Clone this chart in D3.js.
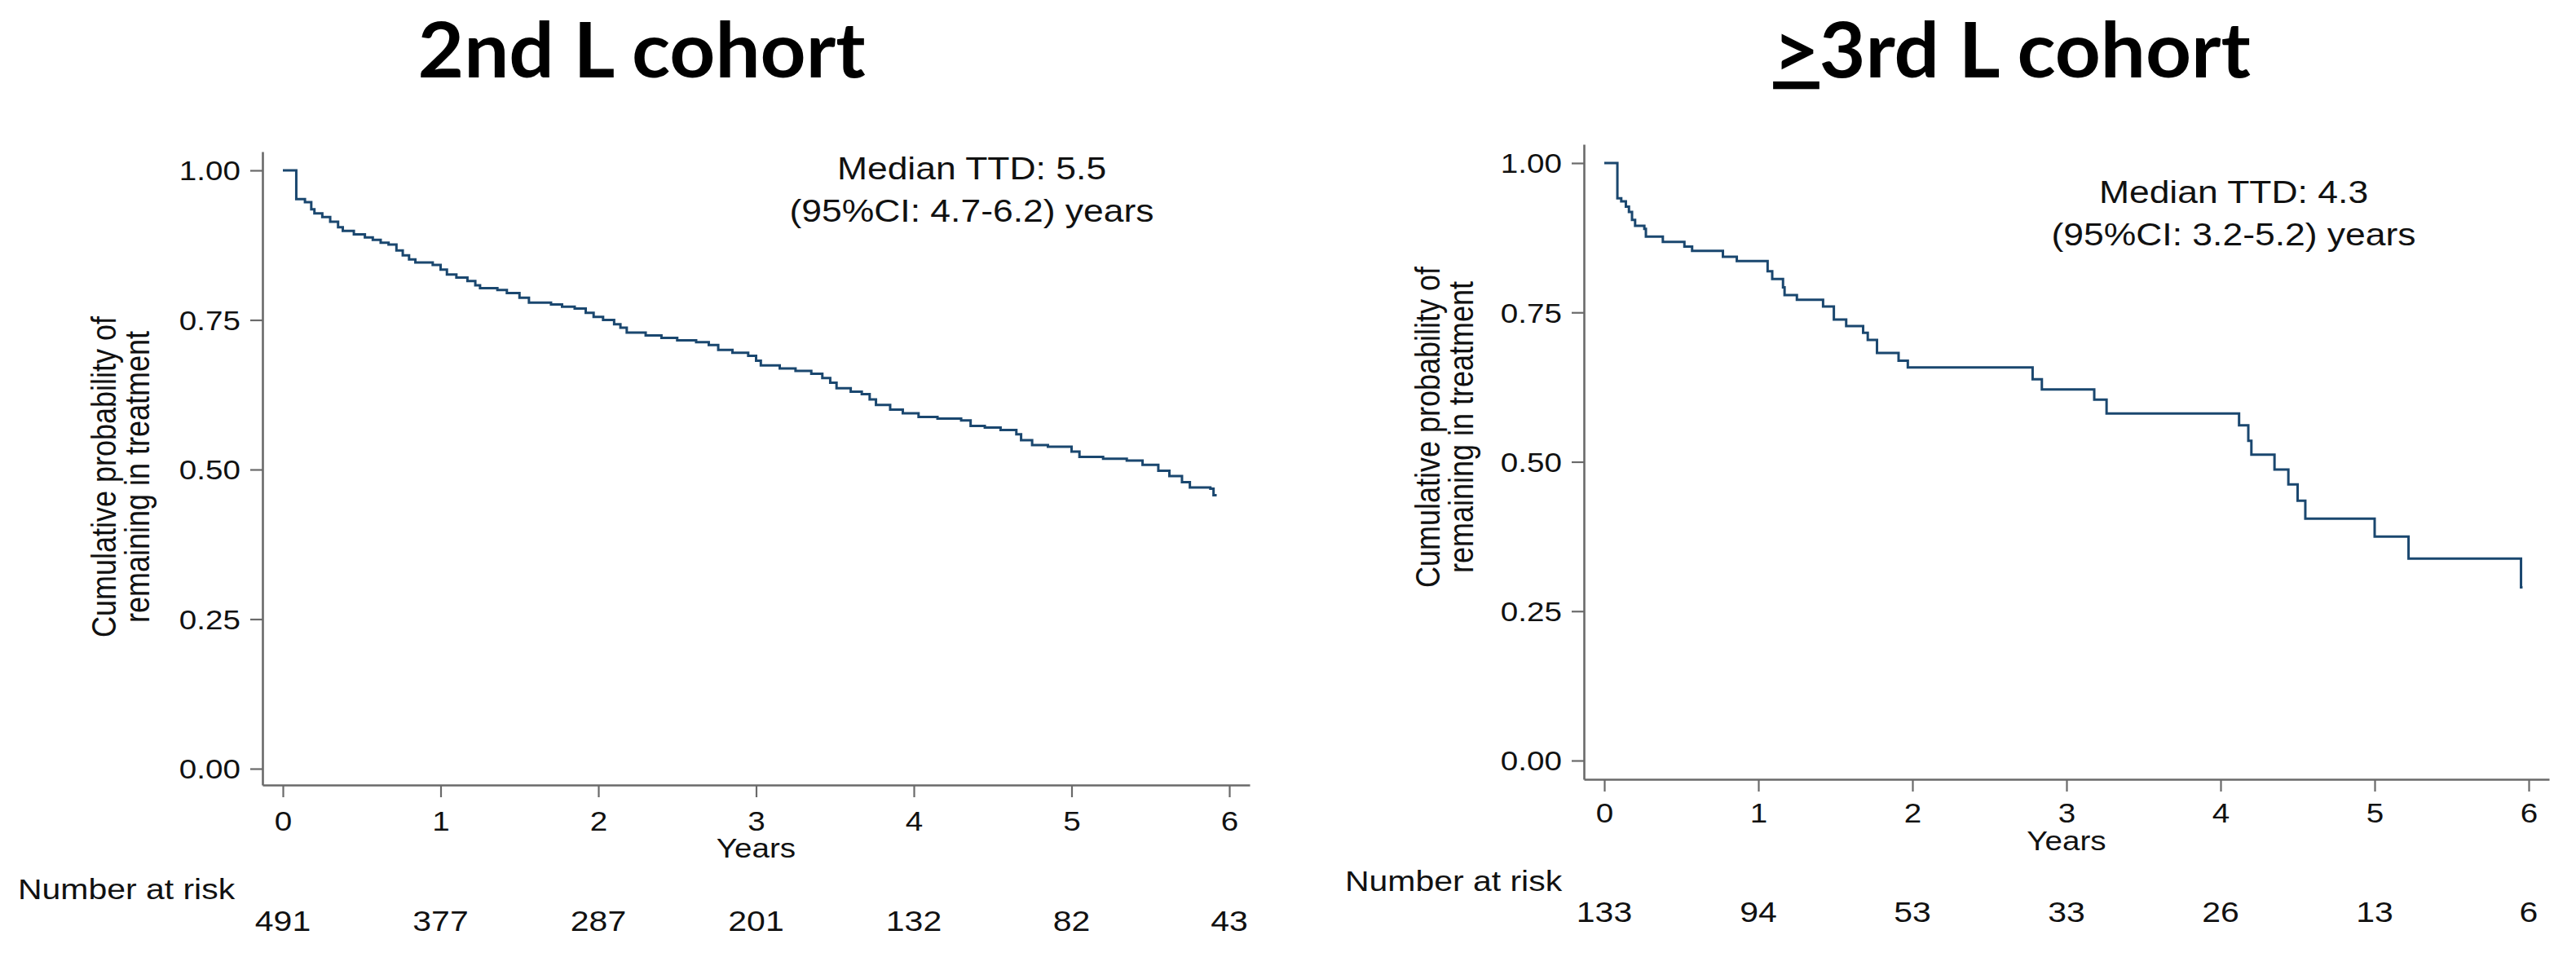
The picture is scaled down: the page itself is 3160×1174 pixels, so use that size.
<!DOCTYPE html>
<html>
<head>
<meta charset="utf-8">
<script src="https://cdn.jsdelivr.net/npm/d3@7"></script>
<style>
body { margin: 0; background: #fff; }
svg text { font-family: "Liberation Sans", Arial, sans-serif; fill: #111; }
svg .ttl { font-family: Lato, "Open Sans", sans-serif; font-weight: 700; fill: #000; }
</style>
</head>
<body>
<svg id="fig"></svg>
<script>
var width = 3160, height = 1174;
var SX = 1.17; // stata text looks stretched sideways in the picture

// 2nd L cohort: Kaplan-Meier steps (years, probability)
var yrs2 = [0, 0.085, 0.14, 0.18, 0.2, 0.25, 0.3, 0.35, 0.38, 0.45, 0.52, 0.57, 0.62, 0.67, 0.72, 0.76, 0.8, 0.84, 0.95, 1.0,
  1.04, 1.1, 1.17, 1.22, 1.25, 1.36, 1.42, 1.5, 1.56, 1.7, 1.77, 1.85, 1.92, 1.97, 2.03, 2.1, 2.14, 2.18, 2.3, 2.4,
  2.5, 2.62, 2.7, 2.76, 2.85, 2.95, 3.0, 3.03, 3.15, 3.25, 3.35, 3.42, 3.47, 3.51, 3.6, 3.67, 3.72, 3.76, 3.85, 3.93,
  4.03, 4.15, 4.3, 4.36, 4.45, 4.55, 4.65, 4.68, 4.75, 4.85, 5.0, 5.05, 5.2, 5.35, 5.45, 5.55, 5.62, 5.7, 5.75, 5.88, 5.9, 5.92];
var surv2 = [1.0, 0.952, 0.947, 0.935, 0.928, 0.922, 0.914, 0.905, 0.899, 0.893, 0.888, 0.884, 0.879, 0.876, 0.866, 0.858, 0.851, 0.846, 0.842, 0.834,
  0.826, 0.821, 0.815, 0.808, 0.803, 0.800, 0.795, 0.787, 0.779, 0.776, 0.772, 0.769, 0.762, 0.755, 0.750, 0.743, 0.737, 0.729, 0.724, 0.720,
  0.716, 0.713, 0.708, 0.700, 0.695, 0.690, 0.682, 0.674, 0.669, 0.665, 0.660, 0.653, 0.645, 0.636, 0.630, 0.626, 0.617, 0.608, 0.600, 0.594,
  0.588, 0.585, 0.582, 0.573, 0.570, 0.566, 0.559, 0.549, 0.541, 0.538, 0.530, 0.521, 0.518, 0.515, 0.508, 0.498, 0.489, 0.479, 0.470, 0.468, 0.457, 0.457];

// >=3rd L cohort
var yrs3 = [0, 0.085, 0.11, 0.14, 0.16, 0.18, 0.2, 0.26, 0.27, 0.38, 0.52, 0.57, 0.77, 0.86, 1.06, 1.09, 1.16, 1.17, 1.25, 1.42,
  1.49, 1.57, 1.68, 1.71, 1.77, 1.91, 1.97, 2.78, 2.84, 3.18, 3.26, 4.12, 4.18, 4.2, 4.35, 4.44, 4.5, 4.55, 5.0, 5.22, 5.95, 5.96];
var surv3 = [1.0, 0.941, 0.936, 0.927, 0.918, 0.905, 0.895, 0.89, 0.877, 0.868, 0.86, 0.853, 0.843, 0.836, 0.819, 0.806, 0.792, 0.779, 0.771, 0.76,
  0.738, 0.727, 0.716, 0.704, 0.682, 0.669, 0.658, 0.638, 0.621, 0.604, 0.581, 0.561, 0.535, 0.512, 0.487, 0.462, 0.435, 0.405, 0.375, 0.338, 0.29, 0.29];

var yearTicks = [0, 1, 2, 3, 4, 5, 6];
var survTicks = [0, 0.25, 0.5, 0.75, 1];
var risk2 = [491, 377, 287, 201, 132, 82, 43];
var risk3 = [133, 94, 53, 33, 26, 13, 6];
var titlePre = ["", ">"];
var titleMain = ["2nd L cohort", "3rd L cohort"];
var medLine1 = ["Median TTD: 5.5", "Median TTD: 4.3"];
var medLine2 = ["(95%CI: 4.7-6.2) years", "(95%CI: 3.2-5.2) years"];
var yTitle = ["Cumulative probability of", "remaining in treatment"];

var svg = d3.select("#fig").attr("width", width).attr("height", height);
svg.append("rect").attr("width", width).attr("height", height).attr("fill", "#fff");

function stext(sel, x, y, str, size, anchor, rot) {
  return sel.append("text")
    .attr("transform", "translate(" + x + "," + y + ") scale(" + SX + ",1)" + (rot ? " rotate(-90)" : ""))
    .attr("text-anchor", anchor || "middle")
    .style("font-size", size + "px")
    .text(str);
}

// pixel layout of the two stata panels
var layout = [
  {x0: 347, x6: 1508, axL: 322, axR: 1533, y0: 943, y1: 209, axB: 963, axT: 186,
   title: 787, med: 1192, medY: 220, ytX: 142, ytY: 585, xLab: 56, yearsY: 1052,
   riskLabX: 22, riskLabY: 1103, riskY: 1142},
  {x0: 1968, x6: 3102, axL: 1943, axR: 3127, y0: 933, y1: 200, axB: 956, axT: 177,
   title: 2468, med: 2740, medY: 249, ytX: 1766, ytY: 524, xLab: 53, yearsY: 1043,
   riskLabX: 1650, riskLabY: 1093, riskY: 1131}
];

function drawPanel(i, yrs, surv, risk) {
  var p = layout[i];
  var g = svg.append("g");

  var xb = d3.scaleLinear().domain([0, 6]).range([p.x0, p.x6]);
  var x = d3.scaleLinear().domain([xb.invert(p.axL), xb.invert(p.axR)]).range([p.axL, p.axR]);
  var yb = d3.scaleLinear().domain([0, 1]).range([p.y0, p.y1]);
  var y = d3.scaleLinear().domain([yb.invert(p.axB), yb.invert(p.axT)]).range([p.axB, p.axT]);

  var xa = g.append("g")
    .attr("transform", "translate(0," + p.axB + ")")
    .call(d3.axisBottom(x).tickValues(yearTicks).tickSize(15).tickSizeOuter(0).tickFormat(d3.format("d")));
  var ya = g.append("g")
    .attr("transform", "translate(" + p.axL + ",0)")
    .call(d3.axisLeft(y).tickValues(survTicks).tickSize(15).tickSizeOuter(0).tickFormat(d3.format(".2f")));

  [xa, ya].forEach(function (a) {
    a.attr("font-family", null).attr("font-size", null).attr("color", "#6a6a6a");
    a.select(".domain").attr("stroke-width", 2.6);
    a.selectAll(".tick line").attr("stroke-width", 2.2);
    a.selectAll("text").style("font-size", "33px").style("fill", "#111");
  });
  xa.selectAll("text").attr("y", p.xLab).attr("dy", 0).attr("transform", "scale(" + SX + ",1)");
  ya.selectAll("text").attr("x", -27 / SX).attr("dy", "0.36em").attr("transform", "scale(" + SX + ",1)");

  var line = d3.line()
    .x(function (d) { return x(d[0]); })
    .y(function (d) { return y(d[1]); })
    .curve(d3.curveStepAfter);
  g.append("path")
    .datum(d3.zip(yrs, surv))
    .attr("d", line)
    .attr("fill", "none")
    .attr("stroke", "#1a476f")
    .attr("stroke-width", 3);

  // titles and labels
  var t = g.append("text").attr("class", "ttl")
    .attr("transform", "translate(" + p.title + ",95) scale(1.04,1)")
    .attr("text-anchor", "middle")
    .style("font-size", "94px");
  if (titlePre[i]) t.append("tspan").style("text-decoration", "underline").text(titlePre[i]);
  t.append("tspan").text(titleMain[i]);

  stext(g, p.med, p.medY, medLine1[i], 38);
  stext(g, p.med, p.medY + 52, medLine2[i], 38);

  stext(g, p.ytX, p.ytY, yTitle[0], 36, "middle", true);
  stext(g, p.ytX + 41, p.ytY, yTitle[1], 36, "middle", true);

  stext(g, (p.x0 + p.x6) / 2, p.yearsY, "Years", 33);
  stext(g, p.riskLabX, p.riskLabY, "Number at risk", 35, "start");

  g.selectAll(".risk")
    .data(risk)
    .enter()
    .append("text")
    .attr("class", "risk")
    .attr("transform", function (d, k) { return "translate(" + xb(yearTicks[k]) + "," + p.riskY + ") scale(" + SX + ",1)"; })
    .attr("text-anchor", "middle")
    .style("font-size", "35px")
    .text(function (d) { return d; });
}

drawPanel(0, yrs2, surv2, risk2);
drawPanel(1, yrs3, surv3, risk3);
</script>
</body>
</html>
